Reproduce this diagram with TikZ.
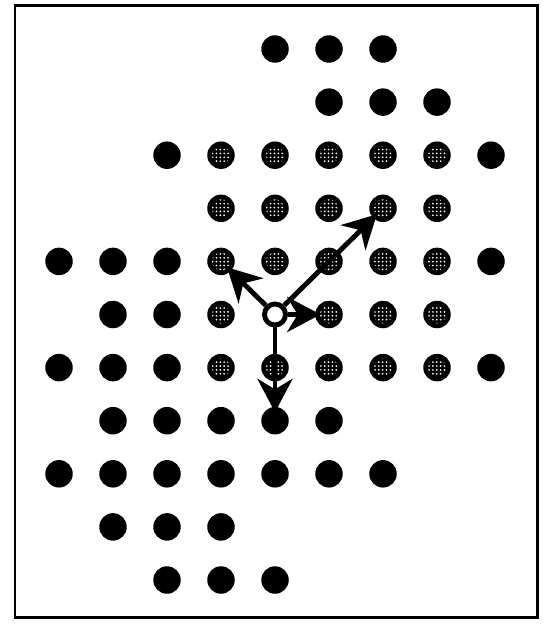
\documentclass[tikz,border=0pt]{standalone}
\usepackage{tikz}
\usetikzlibrary{arrows.meta,patterns.meta}

\begin{document}
\begin{tikzpicture}[x=0.02cm, y=-0.02cm,
	blackdot/.style={circle, fill=black, minimum size=0.55cm, inner sep=0pt},
	graydot/.style={circle, fill=black, minimum size=0.55cm, inner sep=0pt,
		path picture={\fill[pattern={Dots[distance=2.2pt, radius=0.55pt]}, pattern color=white] (path picture bounding box.center) circle (0.18cm);}},
	opendot/.style={circle, draw, fill=white, line width=2.8pt, minimum size=0.42cm, inner sep=0pt},
	vec/.style={line width=2.8pt, -{Stealth[length=19pt, width=20pt, inset=6pt]}, shorten >=0.17cm}]
	\useasboundingbox (0,0) rectangle (542,625);
	\draw[line width=0.06cm] (15,6) rectangle (537,617);
	% solid dots
	\foreach \r/\cols in {0/{4,5,6}, 1/{5,6,7}, 2/{2,8}, 4/{0,1,2,8}, 5/{1,2}, 6/{0,1,2,8},
		7/{1,2,3,4,5}, 8/{0,1,2,3,4,5,6}, 9/{1,2,3}, 10/{2,3,4}}
		\foreach \c in \cols
			\node[blackdot] (d-\r-\c) at ({59+54*\c},{49+53.1*\r}) {};
	% speckled dots
	\foreach \r/\cols in {2/{3,4,5,6,7}, 3/{3,4,5,6,7}, 4/{3,4,5,6,7}, 5/{3,5,6,7}, 6/{3,4,5,6,7}}
		\foreach \c in \cols
			\node[graydot] (d-\r-\c) at ({59+54*\c},{49+53.1*\r}) {};
	\node[opendot] (o) at ({59+54*4},{49+53.1*5}) {};
	\draw[vec] (o) -- (d-4-3.center);
	\draw[vec] (o) -- (d-3-6.center);
	\draw[vec] (o) -- (d-5-5.center);
	\draw[vec] (o) -- (d-7-4.center);
\end{tikzpicture}
\end{document}
